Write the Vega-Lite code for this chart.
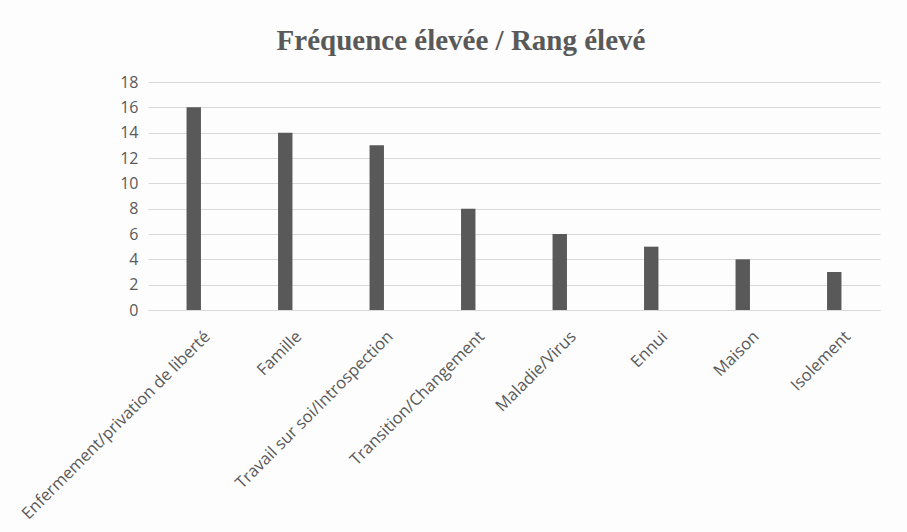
{
  "$schema": "https://vega.github.io/schema/vega-lite/v6.json",
  "autosize": "none",
  "width": 732,
  "height": 228,
  "padding": {"left": 148, "top": 82, "right": 27, "bottom": 222},
  "background": "#fdfdfe",
  "title": {
    "text": "Fréquence élevée / Rang élevé",
    "font": "Liberation Serif",
    "fontSize": 29,
    "fontWeight": "bold",
    "color": "#595959",
    "anchor": "middle",
    "dx": -53,
    "offset": 18
  },
  "data": {
    "values": [
      {"theme": "Enfermement/privation de liberté", "freq": 16},
      {"theme": "Famille", "freq": 14},
      {"theme": "Travail sur soi/Introspection", "freq": 13},
      {"theme": "Transition/Changement", "freq": 8},
      {"theme": "Maladie/Virus", "freq": 6},
      {"theme": "Ennui", "freq": 5},
      {"theme": "Maison", "freq": 4},
      {"theme": "Isolement", "freq": 3}
    ]
  },
  "mark": {"type": "bar", "color": "#595959", "width": {"band": 0.175}},
  "encoding": {
    "x": {
      "field": "theme",
      "type": "nominal",
      "sort": null,
      "title": null,
      "axis": {
        "labelAngle": -45,
        "labelFont": "Open Sans",
        "labelFontSize": 16.5,
        "labelColor": "#595959",
        "ticks": false,
        "domainColor": "#d9d9d9",
        "labelPadding": 18,
        "labelOffset": 8,
        "labelLimit": 400
      }
    },
    "y": {
      "field": "freq",
      "type": "quantitative",
      "title": null,
      "scale": {"domain": [0, 18]},
      "axis": {
        "values": [0, 2, 4, 6, 8, 10, 12, 14, 16, 18],
        "domain": false,
        "ticks": false,
        "labelFont": "Open Sans",
        "labelFontSize": 16,
        "labelColor": "#595959",
        "labelPadding": 10,
        "gridColor": "#d9d9d9"
      }
    }
  },
  "config": {"view": {"stroke": null}}
}
